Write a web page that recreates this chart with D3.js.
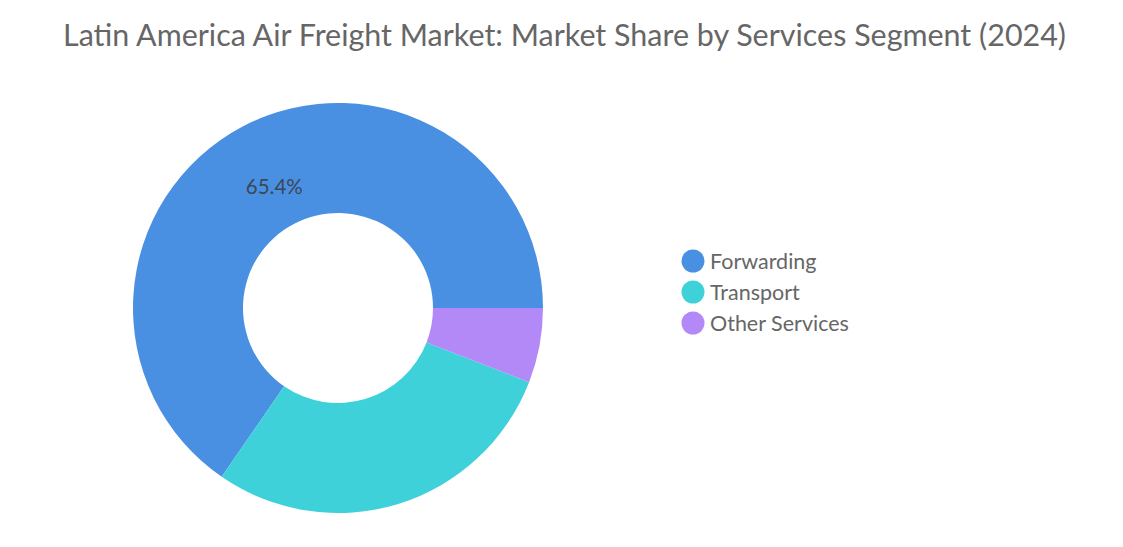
<!DOCTYPE html>
<html>
<head>
<meta charset="utf-8">
<script src="https://cdn.jsdelivr.net/npm/d3@7"></script>
<style>
  body { margin: 0; background: #fff; }
  svg { display: block; font-family: Lato, "Open Sans", sans-serif; }
</style>
</head>
<body>
<script>
// segment data
var segments = ["Forwarding", "Transport", "Other Services"];
var shares = [65.4, 28.7, 5.9];
var colors = ["#4a90e2", "#3fd1da", "#b388f7"];

var width = 1123, height = 547;
var cx = 338, cy = 308, outerR = 205, innerR = 95;

var svg = d3.select("body").append("svg")
    .attr("width", width)
    .attr("height", height);

// title
svg.append("text")
    .attr("x", 63)
    .attr("y", 46)
    .attr("fill", "#666")
    .attr("textLength", 1003)
    .attr("lengthAdjust", "spacingAndGlyphs")
    .style("font-size", "30px")
    .text("Latin America Air Freight Market: Market Share by Services Segment (2024)");

var data = segments.map(function(s, i) { return {name: s, value: shares[i], color: colors[i]}; });

// pie runs counterclockwise from 3 o'clock
var pie = d3.pie()
    .sort(null)
    .value(function(d) { return d.value; })
    .startAngle(Math.PI / 2)
    .endAngle(Math.PI / 2 - 2 * Math.PI);

var arc = d3.arc().innerRadius(innerR).outerRadius(outerR);
var labelArc = d3.arc().innerRadius(137).outerRadius(137);

var g = svg.append("g").attr("transform", "translate(" + cx + "," + cy + ")");

var arcs = pie(data);

g.selectAll("path")
    .data(arcs)
  .enter().append("path")
    .attr("d", arc)
    .attr("fill", function(d) { return d.data.color; });

// only the large slice gets a label
g.selectAll(".lbl")
    .data(arcs.filter(function(d) { return d.data.value > 50; }))
  .enter().append("text")
    .attr("class", "lbl")
    .attr("transform", function(d) { return "translate(" + labelArc.centroid(d) + ")"; })
    .attr("dy", "0.35em")
    .attr("text-anchor", "middle")
    .attr("fill", "#3b4756")
    .style("font-size", "20.5px")
    .text(function(d) { return d.data.value + "%"; });

// legend
var legend = svg.append("g").attr("transform", "translate(693,261)");
var item = legend.selectAll(".item")
    .data(data)
  .enter().append("g")
    .attr("class", "item")
    .attr("transform", function(d, i) { return "translate(0," + (i * 31) + ")"; });

item.append("circle")
    .attr("r", 11.5)
    .attr("fill", function(d) { return d.color; });

item.append("text")
    .attr("x", 17)
    .attr("dy", "0.35em")
    .attr("fill", "#666")
    .style("font-size", "21.5px")
    .text(function(d) { return d.name; });
</script>
</body>
</html>
